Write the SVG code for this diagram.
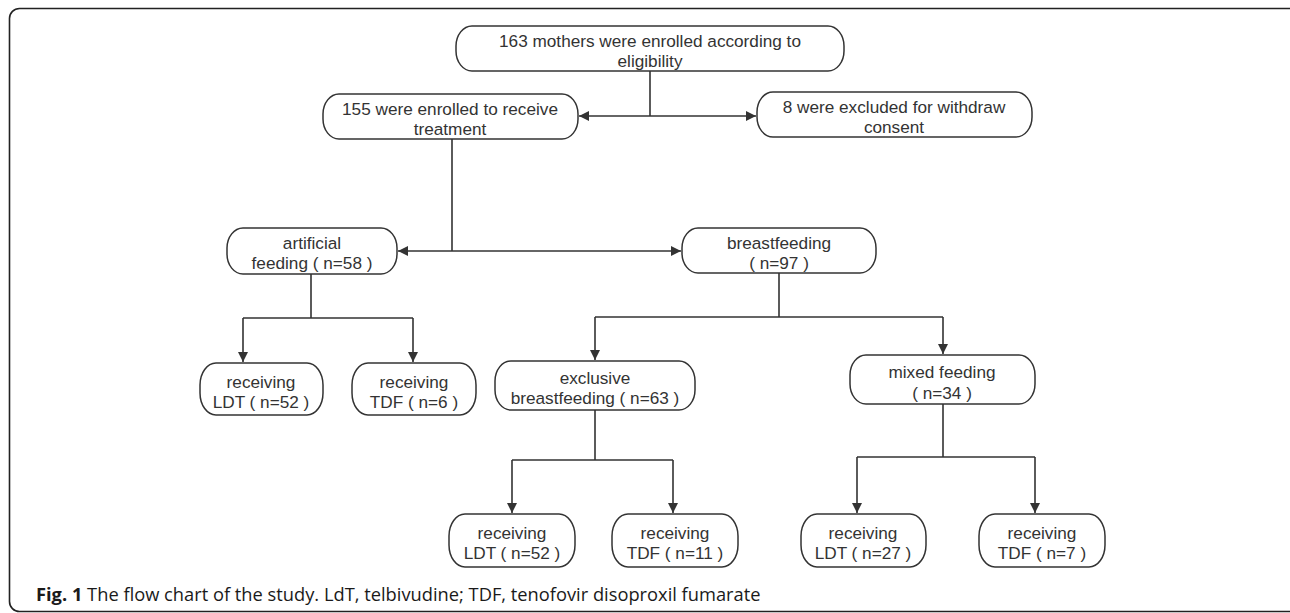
<svg xmlns="http://www.w3.org/2000/svg" width="1290" height="613" viewBox="0 0 1290 613">
<defs>
<marker id="ah" viewBox="0 0 10 10" refX="10" refY="5" markerWidth="10" markerHeight="10" markerUnits="userSpaceOnUse" orient="auto">
<path d="M0,0 L10,5 L0,10 Z" fill="#333"/>
</marker>
</defs>
<style>
.frame{fill:none;stroke:#222;stroke-width:1.6}
.box{fill:#fff;stroke:#333;stroke-width:1.5}
.t{font-family:"Liberation Sans",Arial,sans-serif;font-size:17.2px;fill:#333;text-anchor:middle}
.c{fill:none;stroke:#333;stroke-width:1.6}
.cap{font-family:"Open Sans","Liberation Sans",sans-serif;font-size:18.3px;fill:#1a1a1a}
</style>
<rect class="frame" x="9.5" y="8.5" width="1295" height="603" rx="10" ry="10"/>
<g id="connectors">
<path class="c" d="M650,71 V116"/>
<path class="c" d="M650,116 H579" marker-end="url(#ah)"/>
<path class="c" d="M650,116 H756" marker-end="url(#ah)"/>
<path class="c" d="M452,139 V251"/>
<path class="c" d="M452,251 H398" marker-end="url(#ah)"/>
<path class="c" d="M452,251 H681" marker-end="url(#ah)"/>
<path class="c" d="M311,274 V318 M243,318 H413"/>
<path class="c" d="M243,318 V362" marker-end="url(#ah)"/>
<path class="c" d="M413,318 V362" marker-end="url(#ah)"/>
<path class="c" d="M779,273 V317 M595,317 H943"/>
<path class="c" d="M595,317 V360" marker-end="url(#ah)"/>
<path class="c" d="M943,317 V354" marker-end="url(#ah)"/>
<path class="c" d="M595,410 V460 M512,460 H673"/>
<path class="c" d="M512,460 V513" marker-end="url(#ah)"/>
<path class="c" d="M673,460 V513" marker-end="url(#ah)"/>
<path class="c" d="M943,404 V457 M857,457 H1035"/>
<path class="c" d="M857,457 V513" marker-end="url(#ah)"/>
<path class="c" d="M1035,457 V513" marker-end="url(#ah)"/>
</g>
<g id="n_enrolled">
<rect class="box" x="456" y="26" width="388" height="45" rx="16" ry="20"/>
<text class="t" x="650" y="47">163 mothers were enrolled according to</text>
<text class="t" x="650" y="67">eligibility</text>
</g>
<g id="n_treatment">
<rect class="box" x="323" y="94" width="255" height="45" rx="16" ry="20"/>
<text class="t" x="450" y="115">155 were enrolled to receive</text>
<text class="t" x="450" y="135">treatment</text>
</g>
<g id="n_excluded">
<rect class="box" x="757" y="92" width="275" height="45" rx="16" ry="20"/>
<text class="t" x="894" y="113">8 were excluded for withdraw</text>
<text class="t" x="894" y="133">consent</text>
</g>
<g id="n_artificial">
<rect class="box" x="227" y="228" width="170" height="46" rx="16" ry="20"/>
<text class="t" x="312" y="249">artificial</text>
<text class="t" x="312" y="269">feeding ( n=58 )</text>
</g>
<g id="n_breast">
<rect class="box" x="682" y="228" width="194" height="45" rx="16" ry="20"/>
<text class="t" x="779" y="249">breastfeeding</text>
<text class="t" x="779" y="269">( n=97 )</text>
</g>
<g id="n_a_ldt">
<rect class="box" x="200" y="363" width="123" height="52" rx="16" ry="22"/>
<text class="t" x="261" y="388">receiving</text>
<text class="t" x="261" y="408">LDT ( n=52 )</text>
</g>
<g id="n_a_tdf">
<rect class="box" x="352" y="363" width="124" height="52" rx="16" ry="22"/>
<text class="t" x="414" y="388">receiving</text>
<text class="t" x="414" y="408">TDF ( n=6 )</text>
</g>
<g id="n_exclusive">
<rect class="box" x="495" y="361" width="200" height="49" rx="16" ry="20"/>
<text class="t" x="595" y="384">exclusive</text>
<text class="t" x="595" y="404">breastfeeding ( n=63 )</text>
</g>
<g id="n_mixed">
<rect class="box" x="850" y="355" width="185" height="49" rx="16" ry="20"/>
<text class="t" x="942" y="378">mixed feeding</text>
<text class="t" x="942" y="399">( n=34 )</text>
</g>
<g id="n_e_ldt">
<rect class="box" x="449" y="514" width="126" height="53" rx="16" ry="22"/>
<text class="t" x="512" y="539">receiving</text>
<text class="t" x="512" y="559">LDT ( n=52 )</text>
</g>
<g id="n_e_tdf">
<rect class="box" x="612" y="514" width="126" height="53" rx="16" ry="22"/>
<text class="t" x="675" y="539">receiving</text>
<text class="t" x="675" y="559">TDF ( n=11 )</text>
</g>
<g id="n_m_ldt">
<rect class="box" x="801" y="514" width="125" height="53" rx="16" ry="22"/>
<text class="t" x="863" y="539">receiving</text>
<text class="t" x="863" y="559">LDT ( n=27 )</text>
</g>
<g id="n_m_tdf">
<rect class="box" x="979" y="514" width="126" height="53" rx="16" ry="22"/>
<text class="t" x="1042" y="539">receiving</text>
<text class="t" x="1042" y="559">TDF ( n=7 )</text>
</g>
<text class="cap" x="36" y="601"><tspan font-weight="bold">Fig. 1</tspan> The flow chart of the study. LdT, telbivudine; TDF, tenofovir disoproxil fumarate</text>
</svg>
